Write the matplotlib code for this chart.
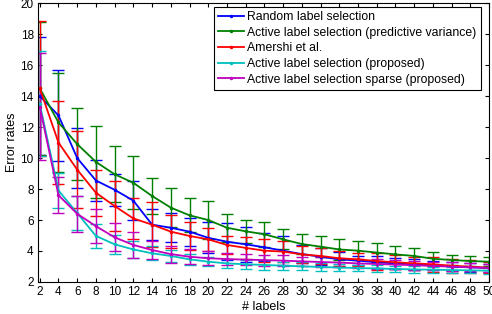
import matplotlib
matplotlib.use('Agg')
import matplotlib.pyplot as plt
from matplotlib.lines import Line2D

plt.rcParams['font.family'] = ['Liberation Sans', 'DejaVu Sans']

n_labels = list(range(2, 51, 2))

random_mean = [14.0, 12.75, 10.0, 8.55, 7.95, 7.25, 5.7, 5.5, 5.25, 4.85, 4.6, 4.43, 4.24,
               4.02, 3.8, 3.63, 3.46, 3.38, 3.27, 3.2, 3.14, 3.08, 3.0, 2.95, 2.9]
random_err = [3.8, 2.95, 1.95, 1.3, 1.05, 1.25, 1.0, 0.95, 0.9, 1.0, 1.2, 1.15, 0.9,
              0.95, 0.6, 0.55, 0.45, 0.3, 0.4, 0.35, 0.35, 0.3, 0.3, 0.3, 0.25]

predvar_mean = [14.5, 12.3, 10.9, 9.75, 8.95, 8.4, 7.55, 6.8, 6.3, 6.0, 5.5, 5.27, 5.08,
                4.75, 4.45, 4.28, 4.1, 4.02, 3.9, 3.78, 3.68, 3.5, 3.42, 3.35, 3.31]
predvar_err = [4.3, 3.2, 2.3, 2.35, 1.8, 1.7, 1.15, 1.25, 1.1, 1.25, 0.9, 0.75, 0.8,
               0.65, 0.65, 0.7, 0.65, 0.6, 0.6, 0.55, 0.5, 0.45, 0.35, 0.33, 0.3]

amershi_mean = [14.5, 11.0, 9.25, 7.76, 6.9, 6.1, 5.7, 5.25, 4.97, 4.75, 4.39, 4.2, 4.02,
                3.96, 3.78, 3.68, 3.53, 3.46, 3.35, 3.27, 3.2, 3.14, 3.05, 2.99, 2.92]
amershi_err = [4.35, 2.7, 2.5, 1.5, 1.6, 1.3, 1.45, 1.05, 0.9, 0.75, 0.6, 0.7, 0.75,
               0.7, 0.55, 0.5, 0.5, 0.4, 0.55, 0.45, 0.4, 0.5, 0.45, 0.4, 0.35]

proposed_mean = [13.5, 7.9, 6.45, 4.97, 4.43, 4.1, 3.85, 3.68, 3.46, 3.31, 3.2, 3.14, 3.1,
                 3.05, 3.01, 2.97, 2.93, 2.9, 2.87, 2.84, 2.81, 2.79, 2.77, 2.75, 2.73]
proposed_err = [3.4, 1.15, 1.1, 0.75, 0.6, 0.55, 0.45, 0.4, 0.35, 0.3, 0.3, 0.3, 0.3,
                0.25, 0.25, 0.25, 0.25, 0.2, 0.2, 0.2, 0.2, 0.2, 0.2, 0.2, 0.2]

sparse_mean = [13.3, 7.6, 6.4, 5.6, 4.88, 4.39, 4.06, 3.8, 3.63, 3.53, 3.48, 3.44, 3.41,
               3.38, 3.33, 3.29, 3.25, 3.2, 3.16, 3.12, 3.08, 3.03, 2.99, 2.95, 2.9]
sparse_err = [3.45, 1.15, 1.15, 1.1, 0.9, 0.85, 0.6, 0.55, 0.5, 0.45, 0.4, 0.35, 0.35,
              0.35, 0.3, 0.3, 0.3, 0.3, 0.3, 0.3, 0.3, 0.25, 0.3, 0.25, 0.25]

series = [
    ('Random label selection', random_mean, random_err, '#0000ff'),
    ('Active label selection (predictive variance)', predvar_mean, predvar_err, '#008000'),
    ('Amershi et al.', amershi_mean, amershi_err, '#ff0000'),
    ('Active label selection (proposed)', proposed_mean, proposed_err, '#00bfbf'),
    ('Active label selection sparse (proposed)', sparse_mean, sparse_err, '#bf00bf'),
]

fig = plt.figure(figsize=(4.92, 3.14), dpi=100)
ax = fig.add_axes([0.077, 0.102, 0.917, 0.888])

handles = []
for name, m, e, c in series:
    ax.errorbar(n_labels, m, yerr=e, color=c, lw=1.3, marker='.', ms=3,
                elinewidth=1, capsize=4.5, capthick=1)
    handles.append(Line2D([], [], color=c, lw=1.3, marker='.', ms=3, label=name))

ax.set_xlim(1.8, 50)
ax.set_ylim(2, 20)
ax.set_xticks(n_labels)
ax.set_yticks(range(2, 21, 2))
ax.tick_params(direction='in', top=True, right=True, labelsize=8.5, length=3, pad=3)
ax.set_xlabel('# labels', fontsize=9, labelpad=2)
ax.set_ylabel('Error rates', fontsize=9, labelpad=2)

leg = ax.legend(handles=handles, loc='upper right', bbox_to_anchor=(0.982, 0.987),
                fontsize=8.8, frameon=True, fancybox=False, framealpha=1,
                edgecolor='black', handlelength=2.1, handletextpad=0.3,
                borderpad=0.35, labelspacing=0.3, borderaxespad=0)
leg.get_frame().set_linewidth(0.8)

fig.savefig('out.png', dpi=100)
